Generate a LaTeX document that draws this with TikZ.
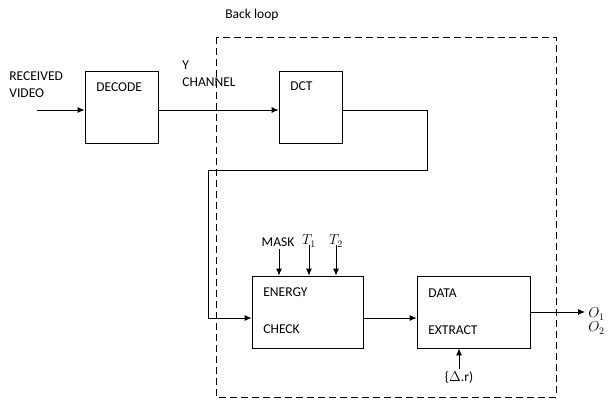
\documentclass[tikz,border=0pt]{standalone}
\usepackage{amsmath}
\usepackage{fontspec}
\setmainfont{Carlito}
\usetikzlibrary{arrows.meta}

\begin{document}
\begin{tikzpicture}[x=1pt, y=-1pt, >={Latex[length=7pt,width=6pt]}, line width=0.8pt,
            font=\fontsize{13.5}{17}\selectfont,
            block/.style={draw, minimum height=72pt, inner sep=0pt},
            lbl/.style={inner sep=0pt, anchor=west, align=left}]
            \useasboundingbox (0,0) rectangle (616,405);
            % blocks
            \node[block, minimum width=73pt] (decode) at (121.5,107) {};
            \node[block, minimum width=63pt] (dct) at (310.5,107) {};
            \node[block, minimum width=111pt] (energy) at (307.5,312) {};
            \node[block, minimum width=113pt] (extract) at (473.5,312) {};
            % texts
            \node[lbl] (loop) at (225,15) {Back loop};
            \node[lbl] (video) at (9,85) {RECEIVED\\VIDEO};
            \node[lbl] (ychan) at (182,74) {Y\\CHANNEL};
            \node[lbl] (tdecode) at (96,87) {DECODE};
            \node[lbl] (tdct) at (290,86) {DCT};
            \node[lbl] (tenergy) at (263,292.5) {ENERGY};
            \node[lbl] (tcheck) at (263,329.5) {CHECK};
            \node[lbl] (tdata) at (428,293) {DATA};
            \node[lbl] (textract) at (428,330) {EXTRACT};
            \node[inner sep=0pt] (mask) at (278,242) {MASK};
            \node[inner sep=0pt, font=\Large] (t1) at (309,241) {$T_1$};
            \node[inner sep=0pt, font=\Large] (t2) at (336,241) {$T_2$};
            \node[inner sep=0pt] (dr) at (459,377) {\{$\Delta$.r)};
            \node[lbl, font=\Large] (outs) at (588,321) {$O_1$\\[-4pt]$O_2$};
            % back loop
            \draw[dashed, dash pattern=on 7pt off 4pt] (216,37) rectangle (556,397);
            % connectors
            \coordinate (in) at (37,110);
            \coordinate (out) at (585,312);
            \draw[->] (in) -- (in -| decode.west);
            \draw[->] (decode.east |- in) -- (in -| dct.west);
            \draw[->] (dct.east |- in) -- (427,110) -- (427,170) -- (208,170)
                -- (208,318) -- ([yshift=-6pt]energy.west);
            \draw[->] ([yshift=-6pt]energy.east) -- ([yshift=-6pt]extract.west);
            \draw[->] (extract.east) -- (out);
            \draw[->] ([xshift=1pt,yshift=-2pt]mask.south) -- ([xshift=1pt]mask.south |- energy.north);
            \draw[->] (t1.south |- mask.south) ++(0,-2) -- (t1.south |- energy.north);
            \draw[->] (t2.south |- mask.south) ++(0,-2) -- (t2.south |- energy.north);
            \draw[->] ([yshift=2pt]dr.north) -- (dr.north |- extract.south);
        \end{tikzpicture}
\end{document}
